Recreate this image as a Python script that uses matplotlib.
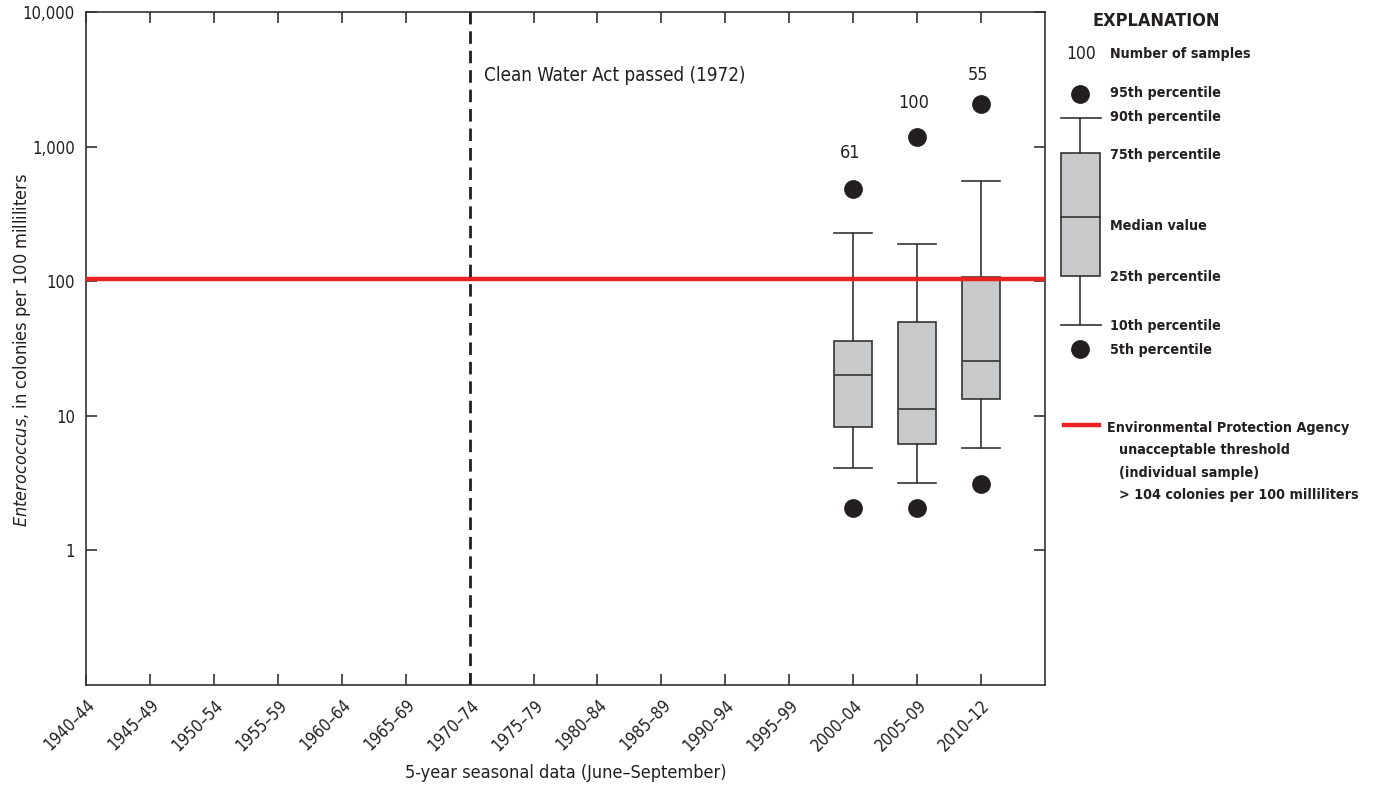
import matplotlib
matplotlib.use("Agg")
import matplotlib.pyplot as plt
from matplotlib.patches import Rectangle
from matplotlib import font_manager

# fonts: a narrow sans if one is installed, else condensed DejaVu
fonts = font_manager.fontManager.ttflist
names = {f.name for f in fonts}
if "Liberation Sans Narrow" in names:
    FAM, STRETCH = "Liberation Sans Narrow", "normal"
else:
    FAM, STRETCH = "DejaVu Sans", "condensed"
plt.rcParams["font.family"] = [FAM, "DejaVu Sans"]
plt.rcParams["font.stretch"] = STRETCH
plt.rcParams["mathtext.fontset"] = "custom"
plt.rcParams["mathtext.it"] = FAM + ":italic:stretch=" + STRETCH
plt.rcParams["mathtext.rm"] = FAM + ":stretch=" + STRETCH

# data
periods = ["1940\u201344", "1945\u201349", "1950\u201354", "1955\u201359", "1960\u201364",
           "1965\u201369", "1970\u201374", "1975\u201379", "1980\u201384", "1985\u201389",
           "1990\u201394", "1995\u201399", "2000\u201304", "2005\u201309", "2010\u201312"]
box_periods = ["2000\u201304", "2005\u201309", "2010\u201312"]
p05 = [2.05, 2.05, 3.1]
p10 = [4.1, 3.17, 5.75]
p25 = [8.2, 6.15, 13.4]
p50 = [20.0, 11.3, 25.7]
p75 = [36.0, 50.0, 107.0]
p90 = [228.0, 189.0, 556.0]
p95 = [485.0, 1180.0, 2080.0]
n_samples = [61, 100, 55]
label_y = [900, 2100, 3400]
epa_threshold = 104
cwa_period = "1970\u201374"

fig = plt.figure(figsize=(13.74, 7.9), dpi=100)
W, H = 1374, 790
ax = fig.add_axes([86 / W, 1 - 685 / H, (1045 - 86) / W, (685 - 12) / H])

dark = "#231f20"
edge = "#333333"
pos = [periods.index(p) for p in box_periods]
stats = []
for i in range(len(box_periods)):
    stats.append({"whislo": p10[i], "q1": p25[i], "med": p50[i], "q3": p75[i],
                  "whishi": p90[i], "fliers": []})
ax.bxp(stats, positions=pos, widths=0.6, patch_artist=True, showfliers=False,
       boxprops=dict(facecolor="#c8c9cb", edgecolor=edge, linewidth=1.2),
       medianprops=dict(color=edge, linewidth=1.2),
       whiskerprops=dict(color=edge, linewidth=1.2),
       capprops=dict(color=edge, linewidth=1.2), capwidths=0.6)
ax.plot(pos, p95, "o", color=dark, markersize=12.5, zorder=4)
ax.plot(pos, p05, "o", color=dark, markersize=12.5, zorder=4)
for x, n, y in zip(pos, n_samples, label_y):
    ax.text(x - 0.05, y, str(n), ha="center", va="center", fontsize=13, color=dark)

ax.axhline(epa_threshold, color="#ed2024", linewidth=3.2, zorder=3)
xc = periods.index(cwa_period)
ax.axvline(xc, color=dark, linewidth=2, dashes=(4.5, 2.5), zorder=3)
ax.text(xc + 0.23, 3400, "Clean Water Act passed (1972)", ha="left", va="center",
        fontsize=13.5, color=dark)

ax.set_yscale("log")
ax.set_ylim(0.1, 10000)
ax.set_xlim(0, 15)
ax.set_yticks([1, 10, 100, 1000, 10000])
ax.set_yticklabels(["1", "10", "100", "1,000", "10,000"])
ax.yaxis.set_minor_locator(matplotlib.ticker.NullLocator())
ax.set_xticks(range(len(periods)))
ax.set_xticklabels(periods, rotation=45, ha="right", rotation_mode="anchor")
ax.tick_params(axis="both", direction="in", length=8, width=1.2, color=edge,
               labelsize=12, labelcolor=dark, top=True, right=True)
ax.tick_params(axis="x", pad=8)
ax.tick_params(axis="y", pad=8)
for s in ax.spines.values():
    s.set_linewidth(1.2)
    s.set_color(edge)
ax.set_xlabel("5-year seasonal data (June\u2013September)", fontsize=13, color=dark)
ax.xaxis.set_label_coords(0.5, -(773 - 685) / (685 - 12), transform=ax.transAxes)
ax.xaxis.label.set_va("center")
ax.set_ylabel(r"$\it{Enterococcus}$, in colonies per 100 milliliters", fontsize=13,
              color=dark)
ax.yaxis.set_label_coords(-(86 - 22) / (1045 - 86), (685 - 350) / (685 - 12),
                          transform=ax.transAxes)
ax.yaxis.label.set_va("center")

# explanation panel in pixel coordinates
lg = fig.add_axes([0, 0, 1, 1], zorder=5)
lg.set_xlim(0, W)
lg.set_ylim(H, 0)
lg.axis("off")
lg.patch.set_alpha(0)
bold = dict(fontsize=10.3, fontweight="bold", color=dark, va="center", ha="left")
lg.text(1093, 21, "EXPLANATION", fontsize=13, fontweight="bold", color=dark, va="center")
lg.text(1081, 54, "100", fontsize=12.5, color=dark, va="center", ha="center")
lg.text(1110, 54, "Number of samples", **bold)
lg.plot([1080], [94], "o", color=dark, markersize=12.5)
lg.text(1110, 93, "95th percentile", **bold)
lg.plot([1061, 1101], [118, 118], color=edge, lw=1.2)
lg.plot([1080, 1080], [118, 153], color=edge, lw=1.2)
lg.add_patch(Rectangle((1061, 153), 39, 123, facecolor="#c8c9cb", edgecolor=edge, lw=1.2))
lg.plot([1061, 1100], [217, 217], color=edge, lw=1.2)
lg.plot([1080, 1080], [276, 325], color=edge, lw=1.2)
lg.plot([1061, 1101], [325, 325], color=edge, lw=1.2)
lg.plot([1080], [349], "o", color=dark, markersize=12.5)
lg.text(1110, 117, "90th percentile", **bold)
lg.text(1110, 155, "75th percentile", **bold)
lg.text(1110, 226, "Median value", **bold)
lg.text(1110, 277, "25th percentile", **bold)
lg.text(1110, 326, "10th percentile", **bold)
lg.text(1110, 350, "5th percentile", **bold)
lg.plot([1064, 1099], [425, 425], color="#ed2024", lw=3.2)
lg.text(1107, 428, "Environmental Protection Agency", **bold)
lg.text(1119, 450, "unacceptable threshold", **bold)
lg.text(1119, 473, "(individual sample)", **bold)
lg.text(1119, 495, "> 104 colonies per 100 milliliters", **bold)

fig.savefig("out.png", dpi=100)
